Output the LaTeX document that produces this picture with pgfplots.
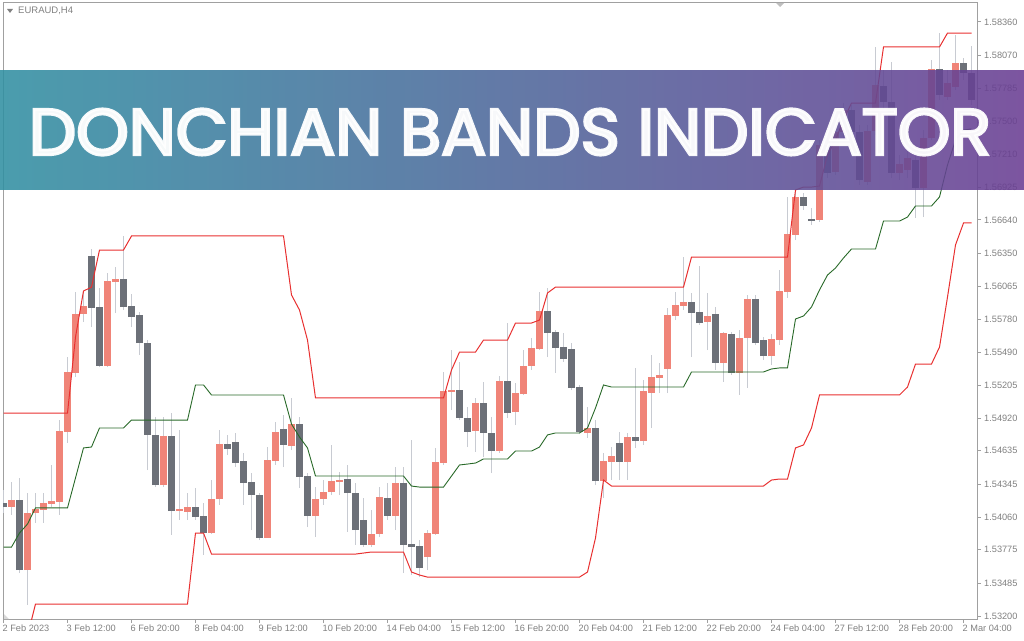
\documentclass[border=0pt]{standalone}
\usepackage{fontspec}
\usepackage{graphicx}
\usepackage{pgfplots}
\usepackage{pgfplotstable}
\pgfplotsset{compat=1.18}
\usetikzlibrary{shadings}
\newfontfamily\ticksfont{Liberation Sans}
\newfontfamily\bannerfont{Poppins}[FakeBold=4.2]
\definecolor{upc}{RGB}{240,132,120}
\definecolor{dnc}{RGB}{108,112,120}
\definecolor{wickc}{RGB}{200,203,210}
\definecolor{bandred}{RGB}{232,48,48}
\definecolor{midgreen}{RGB}{40,105,40}
\definecolor{framec}{RGB}{160,160,160}
\definecolor{labc}{RGB}{128,128,128}
\definecolor{banL}{RGB}{49,143,162}
\definecolor{banR}{RGB}{106,62,147}

% k O H L C  (bullish candles)
\pgfplotstableread{
k O H L C
1 1.54147 1.54364 1.54078 1.54208
3 1.53599 1.54268 1.53296 1.54095
4 1.54095 1.54268 1.54008 1.54130
5 1.54121 1.54268 1.54008 1.54182
6 1.54173 1.54512 1.54147 1.54199
7 1.54191 1.54902 1.54078 1.54807
8 1.54799 1.55449 1.54703 1.55320
9 1.55311 1.56015 1.55276 1.55823
10 1.55823 1.56015 1.55754 1.55893
13 1.55372 1.56179 1.55363 1.56109
14 1.56101 1.56231 1.55832 1.56127
20 1.54338 1.54928 1.54320 1.54764
22 1.54112 1.54816 1.54034 1.54130
23 1.54104 1.54268 1.54034 1.54147
26 1.53921 1.54381 1.53912 1.54216
27 1.54216 1.54816 1.54165 1.54694
33 1.53878 1.54668 1.53878 1.54555
34 1.54546 1.54885 1.54512 1.54799
36 1.54677 1.55094 1.54642 1.54867
39 1.54069 1.54320 1.53886 1.54216
40 1.54216 1.54381 1.54165 1.54277
41 1.54277 1.54686 1.54251 1.54372
42 1.54364 1.54451 1.54251 1.54381
46 1.53817 1.54121 1.53799 1.53912
47 1.53912 1.54320 1.53886 1.54233
49 1.54069 1.54494 1.53947 1.54355
53 1.53712 1.53947 1.53599 1.53921
54 1.53912 1.54660 1.53904 1.54538
55 1.54529 1.55320 1.54512 1.55154
56 1.55146 1.55510 1.54989 1.55163
59 1.54807 1.55094 1.54625 1.55050
62 1.54633 1.55285 1.54616 1.55241
64 1.54972 1.55224 1.54859 1.55137
65 1.55128 1.55510 1.55120 1.55372
66 1.55372 1.55615 1.55337 1.55528
67 1.55519 1.56015 1.55510 1.55849
73 1.54790 1.55015 1.54747 1.54833
75 1.54372 1.54616 1.54225 1.54546
76 1.54538 1.54668 1.54381 1.54590
78 1.54538 1.54790 1.54381 1.54755
80 1.54720 1.55250 1.54686 1.55154
81 1.55137 1.55467 1.54833 1.55276
82 1.55268 1.55398 1.55137 1.55294
83 1.55346 1.55876 1.55137 1.55815
84 1.55806 1.56015 1.55771 1.55902
85 1.55893 1.56318 1.55858 1.55928
88 1.55754 1.56006 1.55510 1.55806
90 1.55398 1.55667 1.55233 1.55658
92 1.55311 1.55684 1.55120 1.55615
93 1.55615 1.55989 1.55181 1.55954
96 1.55458 1.55649 1.55381 1.55606
97 1.55597 1.56205 1.55554 1.56023
98 1.56015 1.56840 1.55963 1.56518
99 1.56510 1.56901 1.56466 1.56840
102 1.56640 1.57335 1.56623 1.57292
104 1.57057 1.57509 1.57031 1.57405
105 1.57405 1.57656 1.57335 1.57595
108 1.56970 1.57466 1.56944 1.57413
109 1.57413 1.58143 1.57379 1.57813
112 1.57048 1.57205 1.56987 1.57126
113 1.57074 1.57248 1.57005 1.57179
115 1.56918 1.57422 1.56666 1.57353
116 1.57353 1.58030 1.57335 1.57952
118 1.57708 1.57943 1.57682 1.57830
119 1.57795 1.58247 1.57769 1.58004
}\upT

% k O H L C  (bearish candles)
\pgfplotstableread{
k O H L C
0 1.54182 1.54294 1.54095 1.54147
2 1.54208 1.54399 1.53573 1.53599
11 1.56327 1.56388 1.55710 1.55876
12 1.55884 1.56049 1.55363 1.55372
15 1.56127 1.56501 1.55858 1.55884
16 1.55893 1.55997 1.55710 1.55797
17 1.55815 1.55841 1.55467 1.55571
18 1.55571 1.55597 1.54468 1.54773
19 1.54773 1.54928 1.54320 1.54338
21 1.54764 1.54963 1.53904 1.54112
24 1.54147 1.54312 1.54034 1.54060
25 1.54069 1.54182 1.53730 1.53921
28 1.54694 1.54773 1.54599 1.54651
29 1.54712 1.54790 1.54494 1.54529
30 1.54546 1.54616 1.54165 1.54355
31 1.54364 1.54442 1.53947 1.54251
32 1.54251 1.54268 1.53860 1.53878
35 1.54824 1.54946 1.54494 1.54686
37 1.54867 1.54928 1.54312 1.54407
38 1.54416 1.54442 1.53973 1.54069
43 1.54390 1.54512 1.53930 1.54268
44 1.54268 1.54355 1.53817 1.53947
45 1.54034 1.54225 1.53799 1.53817
48 1.54225 1.54355 1.54034 1.54069
50 1.54355 1.54494 1.53573 1.53817
51 1.53825 1.54729 1.53556 1.53799
52 1.53808 1.53860 1.53538 1.53617
57 1.55163 1.55407 1.54902 1.54920
58 1.54920 1.55015 1.54668 1.54799
60 1.55050 1.55233 1.54581 1.54790
61 1.54790 1.54928 1.54442 1.54633
63 1.55241 1.55745 1.54920 1.54963
68 1.55849 1.56049 1.55449 1.55658
69 1.55667 1.55684 1.55311 1.55528
70 1.55536 1.55658 1.55407 1.55432
71 1.55519 1.55571 1.55163 1.55181
72 1.55189 1.55207 1.54781 1.54799
74 1.54833 1.54902 1.54338 1.54372
77 1.54703 1.54799 1.54381 1.54538
79 1.54755 1.55355 1.54660 1.54720
86 1.55928 1.56006 1.55449 1.55832
87 1.55841 1.56240 1.55728 1.55745
89 1.55823 1.55884 1.55337 1.55398
91 1.55649 1.55667 1.55294 1.55311
94 1.55954 1.55989 1.55554 1.55571
95 1.55597 1.55623 1.55424 1.55458
100 1.56840 1.56875 1.56727 1.56762
101 1.56649 1.56745 1.56597 1.56631
103 1.57292 1.57353 1.57005 1.57048
106 1.57595 1.57639 1.57379 1.57405
107 1.57405 1.57466 1.56944 1.56987
110 1.57804 1.57943 1.57595 1.57665
111 1.57665 1.58013 1.57005 1.57048
114 1.57161 1.57248 1.56658 1.56918
117 1.57952 1.58264 1.57682 1.57726
120 1.58004 1.58048 1.57856 1.57917
121 1.57917 1.58152 1.57639 1.57682
}\dnT

\pgfplotsset{candle/.style={forget plot, draw=none, mark=none,
  error bars/.cd, y dir=plus, y explicit, error mark=none}}

\begin{document}
\begin{tikzpicture}
\useasboundingbox (0,0) rectangle (1024pt,640pt);
\begin{axis}[
  at={(3pt,21pt)}, anchor=south west,
  scale only axis, width=974pt, height=616pt,
  xmin=-0.0625, xmax=121.6875, ymin=1.53174, ymax=1.58525,
  axis line style={draw=framec, line width=1pt},
  xtick={0,8,...,120},
  xticklabels={2 Feb 2023,3 Feb 12:00,6 Feb 20:00,8 Feb 04:00,9 Feb 12:00,10 Feb 20:00,14 Feb 04:00,15 Feb 12:00,16 Feb 20:00,20 Feb 04:00,21 Feb 12:00,22 Feb 20:00,24 Feb 04:00,27 Feb 12:00,28 Feb 20:00,2 Mar 04:00},
  ytick={1.53200,1.53485,1.53775,1.54060,1.54345,1.54635,1.54920,1.55205,1.55490,1.55780,1.56065,1.56350,1.56640,1.56925,1.57210,1.57500,1.57785,1.58070,1.58360},
  yticklabels={1.53200,1.53485,1.53775,1.54060,1.54345,1.54635,1.54920,1.55205,1.55490,1.55780,1.56065,1.56350,1.56640,1.56925,1.57210,1.57500,1.57785,1.58070,1.58360},
  xtick pos=lower, ytick pos=right, yticklabel pos=right,
  tick align=outside, major tick length=4pt,
  tick style={draw=framec, line width=1pt},
  every tick label/.append style={font=\ticksfont\fontsize{9.2}{10}\selectfont, text=labc},
  xticklabel style={anchor=north west, inner sep=0pt, xshift=-1pt, yshift=-2pt},
  yticklabel style={anchor=west, inner sep=0pt, xshift=3pt},
  clip=true,
]
% wicks
\addplot[candle, error bar style={draw=wickc, line width=1pt}]
  table[x=k, y=L, y error plus expr={\thisrow{H}-\thisrow{L}}] {\upT};
\addplot[candle, error bar style={draw=wickc, line width=1pt}]
  table[x=k, y=L, y error plus expr={\thisrow{H}-\thisrow{L}}] {\dnT};
% bodies
\addplot[candle, error bar style={draw=upc, line width=6.5pt}]
  table[x=k, y=O, y error plus expr={\thisrow{C}-\thisrow{O}}] {\upT};
\addplot[candle, error bar style={draw=dnc, line width=6.5pt}]
  table[x=k, y=C, y error plus expr={\thisrow{O}-\thisrow{C}}] {\dnT};
% upper band
\addplot[forget plot, bandred, line width=1pt] coordinates {
(0,1.54963) (8,1.54963) (9,1.55623) (10,1.56023) (11,1.56057) (12,1.56379) (15,1.56379) (16,1.56501) (35,1.56501) (36,1.55989) (37,1.55858) (38,1.55597) (39,1.55094) (55,1.55094) (56,1.55337) (57,1.55493) (59,1.55493) (60,1.55597) (63,1.55597) (64,1.55745) (66,1.55745) (67,1.55771) (68,1.56006) (69,1.56057) (85,1.56057) (86,1.56318) (98,1.56318) (99,1.56901) (100,1.56926) (101,1.56926) (102,1.56935) (103,1.57205) (104,1.57335) (105,1.57509) (106,1.57656) (109,1.57656) (110,1.58143) (117,1.58143) (118,1.58264) (121,1.58264)};
% lower band
\addplot[forget plot, bandred, line width=1pt] coordinates {
(0,1.52635) (1,1.52635) (2,1.52878) (3,1.53026) (4,1.53304) (23,1.53304) (24,1.53921) (25,1.53921) (26,1.53738) (44,1.53738) (45,1.53747) (46,1.53756) (50,1.53756) (51,1.53582) (52,1.53556) (53,1.53538) (72,1.53538) (73,1.53582) (74,1.53878) (75,1.54381) (76,1.54329) (95,1.54329) (96,1.54381) (97,1.54390) (98,1.54390) (99,1.54660) (100,1.54686) (101,1.54833) (102,1.55120) (112,1.55120) (113,1.55189) (114,1.55389) (116,1.55389) (117,1.55536) (118,1.55971) (119,1.56423) (120,1.56614) (121,1.56614)};
% middle line
\addplot[forget plot, midgreen, line width=0.9pt] coordinates {
(0,1.53799) (1,1.53799) (2,1.53921) (3,1.53999) (4,1.54139) (8,1.54139) (9,1.54399) (10,1.54660) (11,1.54668) (12,1.54833) (15,1.54833) (16,1.54902) (23,1.54902) (24,1.55207) (25,1.55207) (26,1.55120) (35,1.55120) (36,1.54867) (37,1.54755) (38,1.54660) (39,1.54416) (50,1.54416) (51,1.54329) (52,1.54320) (55,1.54320) (56,1.54416) (57,1.54512) (58,1.54520) (59,1.54529) (60,1.54564) (63,1.54564) (64,1.54633) (66,1.54633) (67,1.54668) (68,1.54773) (69,1.54790) (72,1.54790) (73,1.54833) (74,1.55007) (75,1.55207) (76,1.55189) (85,1.55189) (86,1.55320) (95,1.55320) (96,1.55346) (97,1.55355) (98,1.55355) (99,1.55780) (100,1.55806) (101,1.55884) (102,1.56032) (103,1.56162) (104,1.56223) (105,1.56310) (106,1.56388) (109,1.56388) (110,1.56631) (112,1.56631) (113,1.56666) (114,1.56762) (116,1.56762) (117,1.56840) (118,1.57118) (119,1.57335) (120,1.57422) (121,1.57431)};
\end{axis}
% frame decorations
\fill[labc] (7pt,631pt) -- (13pt,631pt) -- (10pt,627pt) -- cycle;
\node[anchor=base west, inner sep=0pt, text=labc, font=\ticksfont\fontsize{9.5}{10}\selectfont] at (18pt,626pt) {EURAUD,H4};
\fill[black!25] (776pt,637pt) -- (784pt,637pt) -- (780pt,633pt) -- cycle;
\fill[black!15] (4pt,21pt) -- (9pt,21pt) -- (4pt,26pt) -- cycle;
% banner
\shade[left color=banL, right color=banR, fill opacity=0.88] (0pt,450pt) rectangle (1024pt,569pt);
\node[inner sep=0pt, text=white, opacity=0.95] at (510pt,508pt) {\resizebox{962pt}{46pt}{\bannerfont DONCHIAN BANDS INDICATOR}};
\end{tikzpicture}
\end{document}
